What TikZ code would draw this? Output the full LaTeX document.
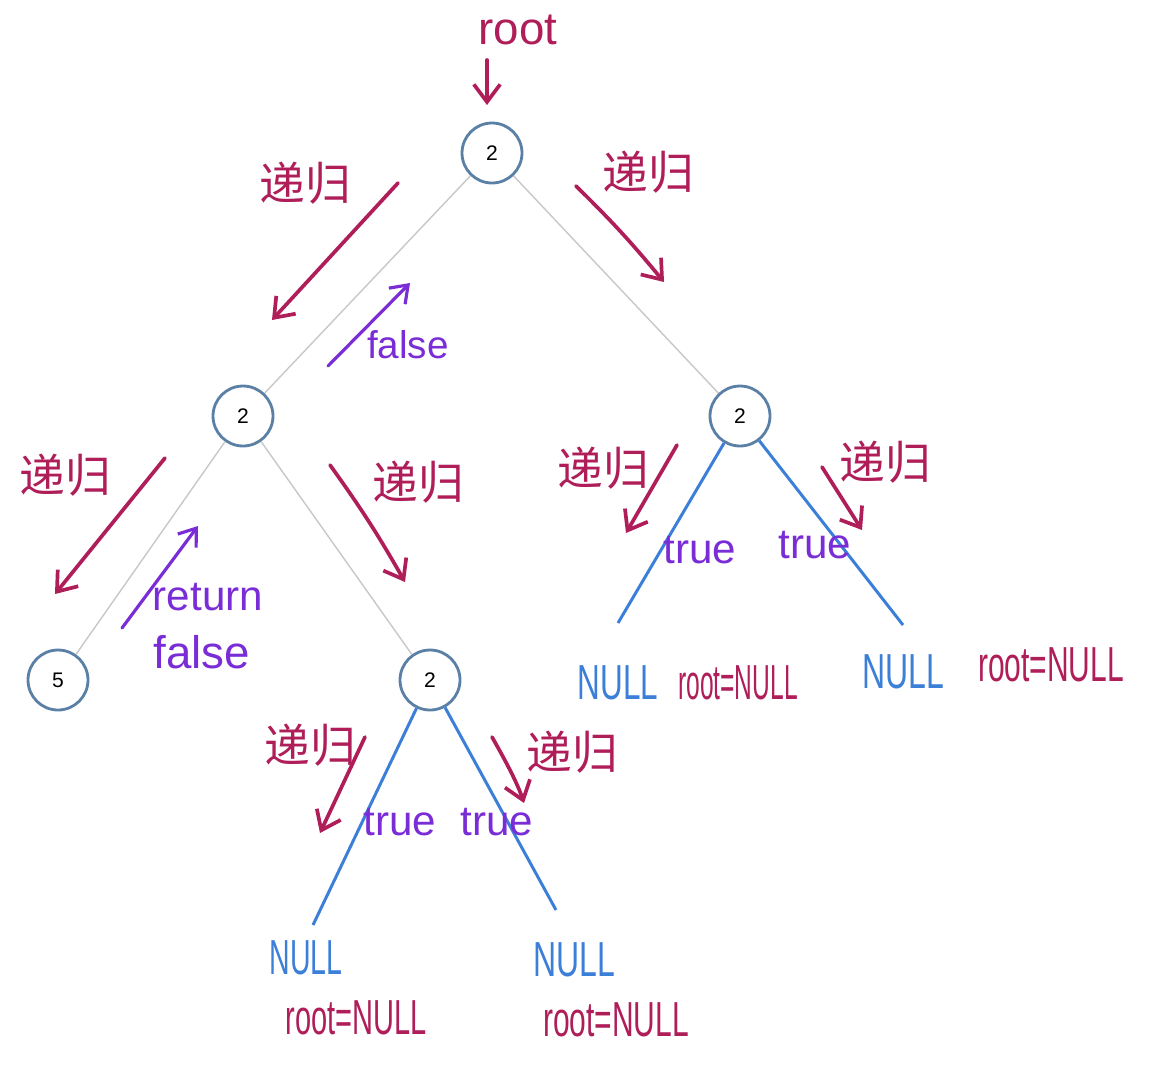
\documentclass[tikz,border=0pt]{standalone}
\usepackage{fontspec}
\setmainfont{Liberation Sans}
\newfontfamily\cjk{Noto Sans CJK SC}
\usetikzlibrary{arrows.meta}
\definecolor{mag}{HTML}{B01E5A}
\definecolor{pur}{HTML}{7A2CD6}
\definecolor{nblue}{HTML}{3C7FD8}
\definecolor{cblue}{HTML}{5B80A5}
\definecolor{gedgec}{HTML}{C8C8C8}
\newcommand{\sqz}[2]{\scalebox{#1}[1]{#2}}
\begin{document}
\begin{tikzpicture}[x=0.02cm,y=-0.02cm,
  tnode/.style={circle,draw=cblue,line width=1.6pt,minimum size=1.2cm,inner sep=0pt,fill=white,font=\fontsize{12}{12}\selectfont},
  gedge/.style={draw=gedgec,line width=0.8pt},
  bedge/.style={draw=nblue,line width=1.7pt},
  magarrow/.style={draw=mag,line width=2.1pt,line cap=round,line join=round,-{Straight Barb[length=10pt,width=15pt]}},
  purarrow/.style={draw=pur,line width=1.8pt,line cap=round,line join=round,-{Straight Barb[length=9pt,width=13pt]}},
  rec/.style={text=mag,font=\cjk\fontsize{26}{26}\selectfont,inner sep=0pt},
  tlab/.style={text=pur,font=\fontsize{24}{24}\selectfont,inner sep=0pt},
  nulll/.style={text=nblue,font=\fontsize{28}{28}\selectfont,inner sep=0pt},
  rnull/.style={text=mag,font=\fontsize{28}{28}\selectfont,inner sep=0pt}
]
\useasboundingbox[fill=white] (0,0) rectangle (1153,1080);

% tree nodes
\node[tnode] (r) at (492,153) {2};
\node[tnode] (a) at (243,416) {2};
\node[tnode] (b) at (740,416) {2};
\node[tnode] (c) at (58,680) {5};
\node[tnode] (d) at (430,680) {2};

% gray edges
\draw[gedge] (r) -- (a);
\draw[gedge] (r) -- (b);
\draw[gedge] (a) -- (c);
\draw[gedge] (a) -- (d);

% blue NULL edges
\coordinate (b1) at (618,623);
\coordinate (b2) at (903,625);
\coordinate (d1) at (313,925);
\coordinate (d2) at (556,910);
\draw[bedge] (b) -- (b1);
\draw[bedge] (b) -- (b2);
\draw[bedge] (d) -- (d1);
\draw[bedge] (d) -- (d2);

% root label
\node[text=mag,font=\fontsize{26}{26}\selectfont,inner sep=0pt] (rootlab) at (518,30) {root};
\coordinate (ra1) at (487,60);
\coordinate (ra2) at (487,105);
\draw[magarrow] (ra1) -- (ra2);

% recursion labels
\node[rec] (t1) at (305,183) {递归};
\node[rec] (t2) at (648,172) {递归};
\node[rec] (t3) at (65,475) {递归};
\node[rec] (t4) at (418,482) {递归};
\node[rec] (t5) at (603,468) {递归};
\node[rec] (t6) at (885,462) {递归};
\node[rec] (t7) at (310,745) {递归};
\node[rec] (t8) at (572,752) {递归};

% recursion arrows
\draw[magarrow] (398,183) -- (272,320);
\draw[magarrow] (576,186) to[bend left=3] (664,282);
\draw[magarrow] (165,458) -- (55,594);
\draw[magarrow] (330,465) to[bend left=3] (405,582);
\draw[magarrow] (677,445) -- (626,533);
\draw[magarrow] (822,467) -- (862,530);
\draw[magarrow] (365,737) -- (320,833);
\draw[magarrow] (492,737) .. controls (508,765) and (518,785) .. (524,803);

% return arrows
\draw[purarrow] (328,366) -- (410,283);
\node[tlab,font=\fontsize{22}{22}\selectfont] (f1) at (408,345) {false};
\draw[purarrow] (122,628) -- (198,526);
\node[tlab] (f2a) at (208,597) {return};
\node[tlab,font=\fontsize{26}{26}\selectfont] (f2b) at (202,652) {false};

% true labels
\node[tlab] (tr1) at (700,550) {true};
\node[tlab] (tr2) at (815,545) {true};
\node[tlab] (tr3) at (400,822) {true};
\node[tlab] (tr4) at (497,822) {true};

% NULL labels
\node[nulll] (n1) at (618,683) {\sqz{0.64}{NULL}};
\node[rnull] (m1) at (738,683) {\sqz{0.50}{root=NULL}};
\node[nulll] (n2) at (903,672) {\sqz{0.65}{NULL}};
\node[rnull] (m2) at (1051,665) {\sqz{0.61}{root=NULL}};
\node[nulll] (n3) at (306,958) {\sqz{0.58}{NULL}};
\node[rnull] (m3) at (356,1018) {\sqz{0.59}{root=NULL}};
\node[nulll] (n4) at (574,960) {\sqz{0.65}{NULL}};
\node[rnull] (m4) at (616,1020) {\sqz{0.61}{root=NULL}};
\end{tikzpicture}
\end{document}
